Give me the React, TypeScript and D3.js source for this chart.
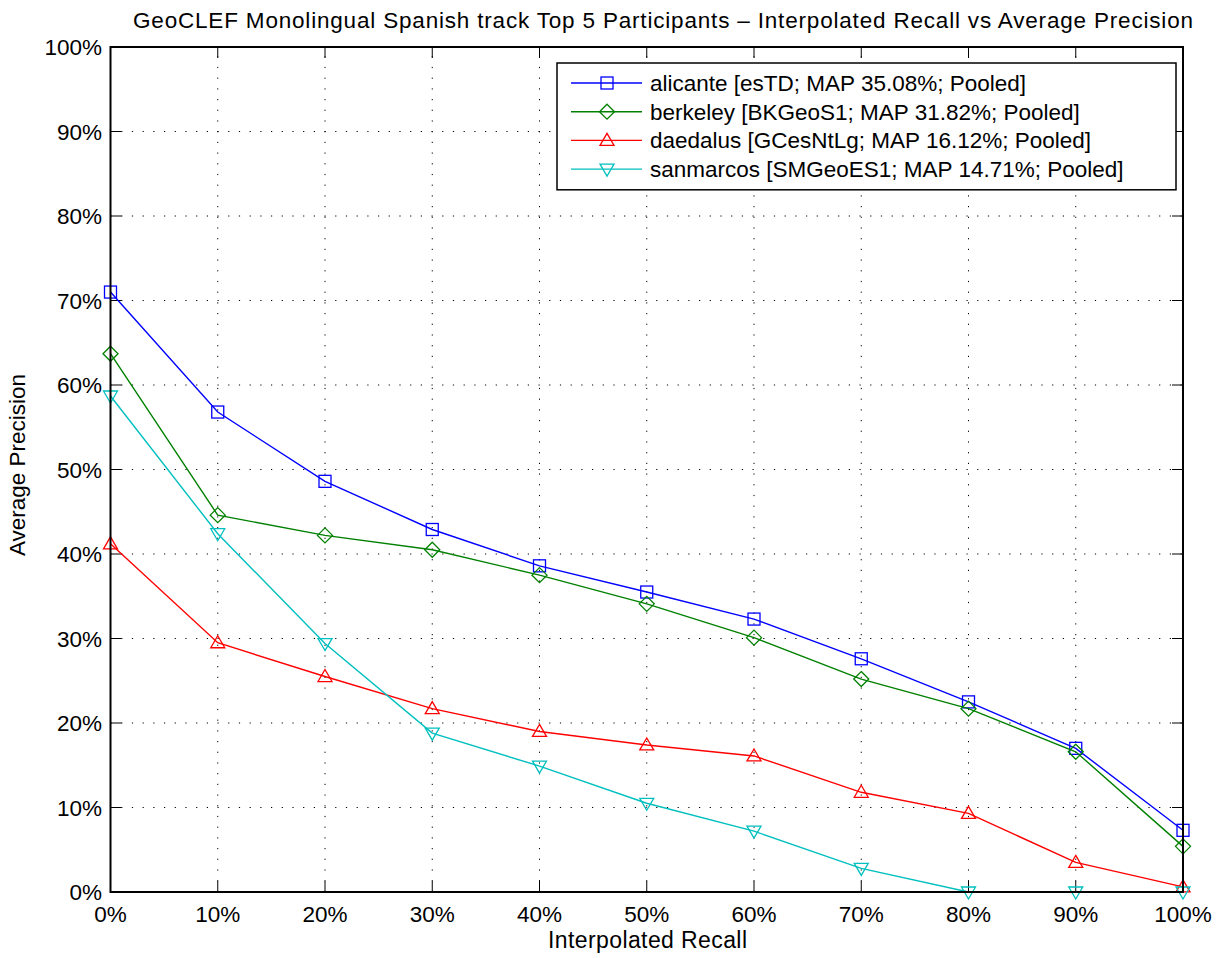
import React from 'react';
import * as d3 from 'd3';

const recall = [0, 10, 20, 30, 40, 50, 60, 70, 80, 90, 100];
const alicante = [71.0, 56.8, 48.6, 42.9, 38.6, 35.5, 32.3, 27.6, 22.5, 17.0, 7.3];
const berkeley = [63.7, 44.6, 42.2, 40.5, 37.5, 34.1, 30.1, 25.2, 21.7, 16.6, 5.4];
const daedalus = [41.2, 29.5, 25.5, 21.7, 19.0, 17.4, 16.1, 11.8, 9.3, 3.5, 0.6];
const sanmarcos = [58.7, 42.4, 29.4, 18.8, 14.9, 10.5, 7.2, 2.8, 0, 0, 0];
const seriesNames = [
  'alicante [esTD; MAP 35.08%; Pooled]',
  'berkeley [BKGeoS1; MAP 31.82%; Pooled]',
  'daedalus [GCesNtLg; MAP 16.12%; Pooled]',
  'sanmarcos [SMGeoES1; MAP 14.71%; Pooled]',
];
const seriesColors = ['#0000ff', '#008000', '#ff0000', '#00bfbf'];
const seriesMarkers = ['square', 'diamond', 'up', 'down'];
const yTicks = [0, 10, 20, 30, 40, 50, 60, 70, 80, 90, 100];

const W = 1224;
const H = 958;
const M = { TOP: 47, BOTTOM: 66, LEFT: 110.5, RIGHT: 41 };
const FONT = '"Liberation Sans", Arial, Helvetica, sans-serif';

function Marker(props: { kind: string; x: number; y: number; color: string }) {
  const { kind, x, y, color } = props;
  const common = { fill: 'none', stroke: color, strokeWidth: 1.3 };
  if (kind === 'square') {
    return <rect x={x - 6} y={y - 6} width={12} height={12} {...common} />;
  }
  if (kind === 'diamond') {
    return <path d={`M${x},${y - 7.5}L${x + 7.5},${y}L${x},${y + 7.5}L${x - 7.5},${y}Z`} {...common} />;
  }
  if (kind === 'up') {
    return <path d={`M${x},${y - 7}L${x + 7},${y + 5}L${x - 7},${y + 5}Z`} {...common} />;
  }
  return <path d={`M${x},${y + 7}L${x + 7},${y - 5}L${x - 7},${y - 5}Z`} {...common} />;
}

export default function App() {
  const innerW = W - M.LEFT - M.RIGHT;
  const innerH = H - M.TOP - M.BOTTOM;
  const x = d3.scaleLinear().domain([0, 100]).range([M.LEFT, M.LEFT + innerW]);
  const y = d3.scaleLinear().domain([0, 100]).range([M.TOP + innerH, M.TOP]);
  const series = [alicante, berkeley, daedalus, sanmarcos];
  const line = d3
    .line<number>()
    .x((_, i) => x(recall[i]))
    .y((d) => y(d));

  const x0 = x(0);
  const x1 = x(100);
  const y0 = y(0);
  const y1 = y(100);

  // legend box
  const LG = { X: 557, Y: 63, W: 619, ROW: 28.7 };

  return (
    <div style={{ position: 'absolute', left: 0, top: 0 }}>
      <svg width={W} height={H} style={{ display: 'block', background: '#fff' }} fontFamily={FONT}>
        <rect x={0} y={0} width={W} height={H} fill="#fff" />
        {/* grid */}
        {recall.slice(1, -1).map((r) => (
          <line key={`gx${r}`} x1={x(r)} x2={x(r)} y1={y0} y2={y1} stroke="#000" strokeWidth={1} strokeDasharray="1.2 9.5" />
        ))}
        {yTicks.slice(1, -1).map((t) => (
          <line key={`gy${t}`} x1={x0} x2={x1} y1={y(t)} y2={y(t)} stroke="#000" strokeWidth={1} strokeDasharray="1.2 9.5" />
        ))}
        {/* ticks on all sides */}
        {recall.map((r) => (
          <g key={`tx${r}`}>
            <line x1={x(r)} x2={x(r)} y1={y0} y2={y0 - 11} stroke="#000" strokeWidth={1} />
            <line x1={x(r)} x2={x(r)} y1={y1} y2={y1 + 11} stroke="#000" strokeWidth={1} />
            <text x={x(r)} y={y0 + 29.5} textAnchor="middle" fontSize={22.5} fill="#000">{`${r}%`}</text>
          </g>
        ))}
        {yTicks.map((t) => (
          <g key={`ty${t}`}>
            <line x1={x0} x2={x0 + 11} y1={y(t)} y2={y(t)} stroke="#000" strokeWidth={1} />
            <line x1={x1} x2={x1 - 11} y1={y(t)} y2={y(t)} stroke="#000" strokeWidth={1} />
            <text x={x0 - 8.5} y={y(t) + 8} textAnchor="end" fontSize={22.5} fill="#000">{`${t}%`}</text>
          </g>
        ))}
        {/* series */}
        {series.map((s, si) => (
          <g key={`s${si}`}>
            <path d={line(s) || ''} fill="none" stroke={seriesColors[si]} strokeWidth={1.4} />
            {s.map((v, i) => (
              <Marker key={i} kind={seriesMarkers[si]} x={x(recall[i])} y={y(v)} color={seriesColors[si]} />
            ))}
          </g>
        ))}
        {/* axes box */}
        <rect x={x0} y={y1} width={x1 - x0} height={y0 - y1} fill="none" stroke="#000" strokeWidth={2} />
        {/* legend */}
        <rect x={LG.X} y={LG.Y} width={LG.W} height={LG.ROW * 4 + 12} fill="#fff" stroke="#000" strokeWidth={1.5} />
        {seriesNames.map((n, i) => {
          const cy = LG.Y + 20 + i * LG.ROW;
          return (
            <g key={n}>
              <line x1={571} x2={642} y1={cy} y2={cy} stroke={seriesColors[i]} strokeWidth={1.4} />
              <Marker kind={seriesMarkers[i]} x={607} y={cy} color={seriesColors[i]} />
              <text x={650} y={cy + 8} fontSize={22.5} fill="#000">{n}</text>
            </g>
          );
        })}
        {/* title and labels */}
        <text x={133} y={28} fontSize={22.5} textLength={1060} lengthAdjust="spacing" fill="#000">
          GeoCLEF Monolingual Spanish track Top 5 Participants – Interpolated Recall vs Average Precision
        </text>
        <text x={548} y={948} fontSize={23} textLength={199} lengthAdjust="spacing" fill="#000">Interpolated Recall</text>
        <text transform={`translate(25, 465) rotate(-90)`} textAnchor="middle" fontSize={22.5} fill="#000">
          Average Precision
        </text>
      </svg>
    </div>
  );
}
